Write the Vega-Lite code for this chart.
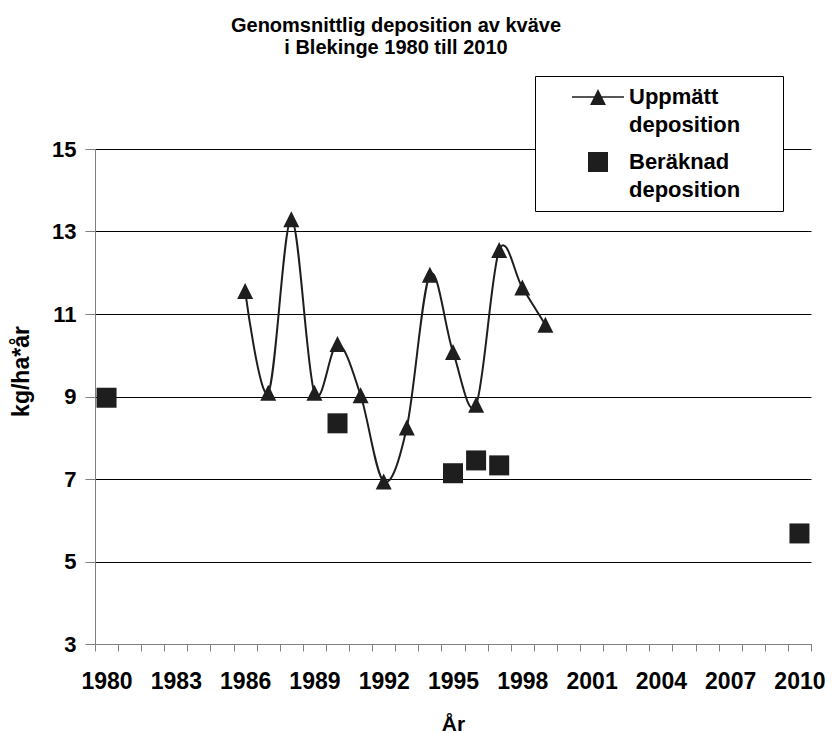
{
  "$schema": "https://vega.github.io/schema/vega-lite/v6.json",
  "width": 716,
  "height": 495,
  "autosize": {"type": "none"},
  "padding": {"left": 95, "top": 149, "right": 21, "bottom": 89},
  "background": "white",
  "config": {
    "view": {"stroke": null},
    "font": "Liberation Sans",
    "style": {"guide-label": {"lineHeight": 28}}
  },
  "title": {
    "text": ["Genomsnittlig deposition av kväve", "i Blekinge 1980 till 2010"],
    "fontSize": 20,
    "fontWeight": "bold",
    "font": "Liberation Sans",
    "color": "black",
    "lineHeight": 22,
    "anchor": "middle",
    "dx": -57,
    "dy": -14
  },
  "data": {
    "values": [
      {"year": 1986, "value": 11.56, "serie": "Uppmätt deposition"},
      {"year": 1987, "value": 9.09, "serie": "Uppmätt deposition"},
      {"year": 1988, "value": 13.3, "serie": "Uppmätt deposition"},
      {"year": 1989, "value": 9.09, "serie": "Uppmätt deposition"},
      {"year": 1990, "value": 10.27, "serie": "Uppmätt deposition"},
      {"year": 1991, "value": 9.03, "serie": "Uppmätt deposition"},
      {"year": 1992, "value": 6.94, "serie": "Uppmätt deposition"},
      {"year": 1993, "value": 8.25, "serie": "Uppmätt deposition"},
      {"year": 1994, "value": 11.95, "serie": "Uppmätt deposition"},
      {"year": 1995, "value": 10.08, "serie": "Uppmätt deposition"},
      {"year": 1996, "value": 8.8, "serie": "Uppmätt deposition"},
      {"year": 1997, "value": 12.55, "serie": "Uppmätt deposition"},
      {"year": 1998, "value": 11.64, "serie": "Uppmätt deposition"},
      {"year": 1999, "value": 10.74, "serie": "Uppmätt deposition"},
      {"year": 1980, "value": 8.97, "serie": "Beräknad deposition"},
      {"year": 1990, "value": 8.35, "serie": "Beräknad deposition"},
      {"year": 1995, "value": 7.14, "serie": "Beräknad deposition"},
      {"year": 1996, "value": 7.45, "serie": "Beräknad deposition"},
      {"year": 1997, "value": 7.33, "serie": "Beräknad deposition"},
      {"year": 2010, "value": 5.68, "serie": "Beräknad deposition"}
    ]
  },
  "encoding": {
    "x": {
      "field": "year",
      "type": "ordinal",
      "bandPosition": 0.5,
      "scale": {
        "type": "band",
        "domain": [1980,1981,1982,1983,1984,1985,1986,1987,1988,1989,1990,1991,1992,1993,1994,1995,1996,1997,1998,1999,2000,2001,2002,2003,2004,2005,2006,2007,2008,2009,2010],
        "paddingInner": 0,
        "paddingOuter": 0
      },
      "axis": {
        "title": "År",
        "tickBand": "extent",
        "labelExpr": "(datum.value - 1980) % 3 == 0 ? datum.label : ''",
        "labelAngle": 0,
        "labelOverlap": false,
        "labelFontSize": 23,
        "labelFontWeight": "bold",
        "labelColor": "black",
        "labelPadding": 19,
        "labelBaseline": "top",
        "tickSize": 7,
        "tickColor": "#808080",
        "domainColor": "#808080",
        "grid": false,
        "titleFontSize": 21,
        "titleFontWeight": "bold",
        "titleColor": "black",
        "titleY": 86,
        "titleBaseline": "alphabetic"
      }
    },
    "y": {
      "field": "value",
      "type": "quantitative",
      "scale": {"domain": [3, 15], "nice": false, "zero": false},
      "axis": {
        "values": [3, 5, 7, 9, 11, 13, 15],
        "title": "kg/ha*år",
        "grid": true,
        "gridColor": "black",
        "gridOpacity": 1,
        "gridWidth": 1,
        "tickSize": 10,
        "tickColor": "#808080",
        "domainColor": "#808080",
        "labelFontSize": 22,
        "labelFontWeight": "bold",
        "labelColor": "black",
        "labelPadding": 9,
        "titleFontSize": 23,
        "titleFontWeight": "bold",
        "titleColor": "black",
        "titleX": -74,
        "titleY": 222,
        "titleBaseline": "middle",
        "titleAlign": "center"
      }
    }
  },
  "layer": [
    {
      "transform": [{"filter": "datum.serie == 'Uppmätt deposition'"}],
      "mark": {"type": "line", "interpolate": "cardinal", "color": "#1e1e1e", "strokeWidth": 2}
    },
    {
      "transform": [{"filter": "datum.serie == 'Uppmätt deposition'"}],
      "mark": {"type": "point", "filled": true, "size": 256, "opacity": 1, "color": "#1e1e1e", "shape": "M0,-1L1,1L-1,1Z"}
    },
    {
      "transform": [{"filter": "datum.serie == 'Beräknad deposition'"}],
      "mark": {"type": "point", "filled": true, "size": 400, "opacity": 1, "color": "#1e1e1e", "shape": "square"}
    },
    {
      "transform": [{"filter": "false"}],
      "mark": {"type": "point", "filled": true, "opacity": 1, "color": "#1e1e1e"},
      "encoding": {
        "shape": {
          "field": "serie",
          "type": "nominal",
          "scale": {
            "domain": ["Uppmätt deposition", "Beräknad deposition"],
            "range": [
              "M-3,-0.1H3V0.1H-3ZM0,-0.92L0.92,0.92L-0.92,0.92Z",
              "M-1.155,-1.155H1.155V1.155H-1.155Z"
            ]
          },
          "legend": {
            "title": ".",
            "titleOrient": "right",
            "titleOpacity": 0,
            "titleFontSize": 10,
            "titlePadding": 30,
            "orient": "none",
            "legendX": 440,
            "legendY": -73,
            "strokeColor": "black",
            "fillColor": "white",
            "padding": 10,
            "symbolSize": 300,
            "symbolOffset": 42,
            "symbolFillColor": "#1e1e1e",
            "symbolStrokeWidth": 0,
            "symbolOpacity": 1,
            "labelOffset": 20,
            "labelFontSize": 22,
            "labelFontWeight": "bold",
            "labelColor": "black",
            "labelBaseline": "middle",
            "rowPadding": 15,
            "labelExpr": "split(datum.label, ' ')"
          }
        }
      }
    }
  ]
}
